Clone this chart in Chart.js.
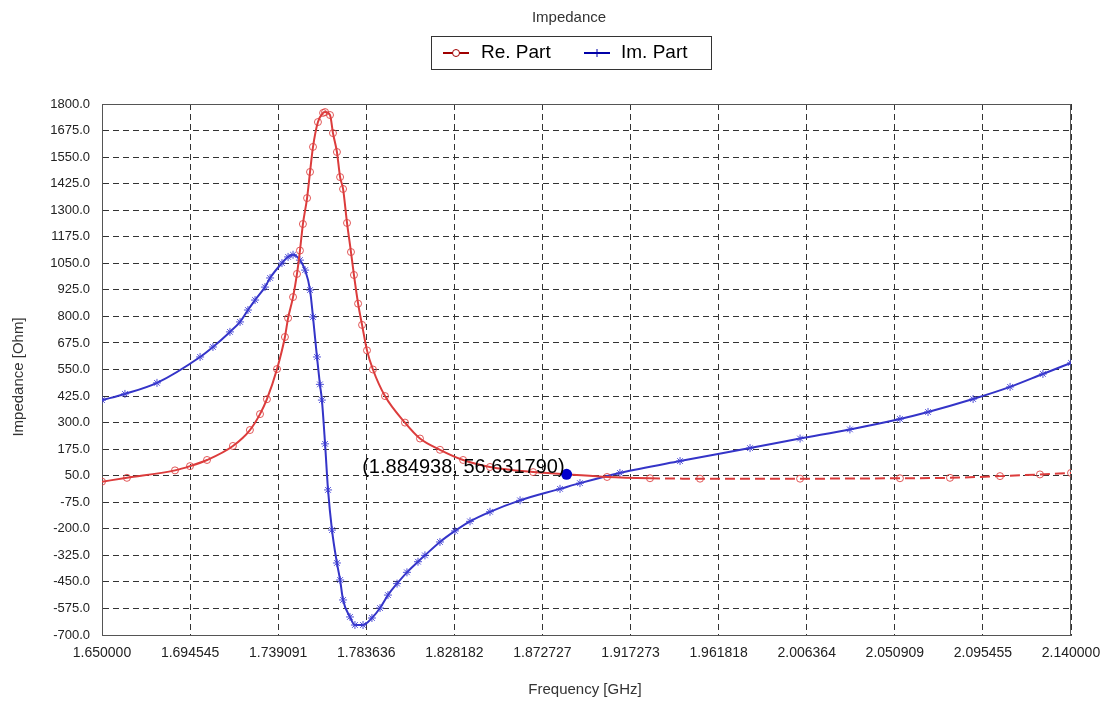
<!DOCTYPE html>
<html>
<head>
<meta charset="utf-8">
<script src="https://cdn.jsdelivr.net/npm/chart.js@4.4.1/dist/chart.umd.min.js"></script>
<style>
html,body{margin:0;padding:0;background:#fff;}
canvas{display:block;}
</style>
</head>
<body>
<canvas id="c" width="1113" height="702"></canvas>
<script>
// ---- data ----
const chartTitle = "Impedance";
const seriesNames = ["Re. Part", "Im. Part"];
const xAxisTitle = "Frequency [GHz]";
const yAxisTitle = "Impedance [Ohm]";

const freqRe = [1.6500,1.6626,1.6869,1.6945,1.7031,1.7162,1.7248,1.7299,1.7334,1.7385,1.7425,1.7441,1.7466,1.7486,1.7501,1.7516,1.7537,1.7552,1.7567,1.7592,1.7618,1.7628,1.7653,1.7668,1.7688,1.7704,1.7719,1.7739,1.7759,1.7774,1.7795,1.7815,1.7840,1.7870,1.7931,1.8032,1.8108,1.8209,1.8326,1.8462,1.8680,1.8849,1.9054,1.9271,1.9524,2.0030,2.0535,2.0788,2.1041,2.1243,2.1400];
const reVals = [22,40,75,95,124,190,265,340,410,552,703,792,891,1000,1110,1235,1357,1480,1598,1715,1758,1762,1748,1663,1574,1456,1400,1240,1103,995,860,760,640,550,425,300,225,172,124,91,67,57,44,38,36,36,38,40,48,56,63];

const freqIm = [1.6500,1.6616,1.6778,1.6996,1.7061,1.7147,1.7198,1.7238,1.7274,1.7324,1.7350,1.7410,1.7441,1.7466,1.7501,1.7527,1.7552,1.7567,1.7587,1.7602,1.7612,1.7628,1.7643,1.7663,1.7688,1.7704,1.7719,1.7754,1.7779,1.7820,1.7865,1.7906,1.7946,1.7992,1.8042,1.8098,1.8133,1.8209,1.8285,1.8361,1.8462,1.8614,1.8816,1.8917,1.9119,1.9423,1.9777,2.0030,2.0282,2.0535,2.0677,2.0905,2.1092,2.1258,2.1400];
const imVals = [406,435,487,609,656,727,774,830,877,938,981,1051,1080,1090,1065,1018,924,797,609,480,406,200,-17,-206,-361,-441,-535,-615,-653,-653,-620,-573,-512,-458,-405,-355,-325,-262,-210,-165,-120,-66,-12,15,63,119,180,225,268,317,350,411,468,529,581];

const xTickValues = [1.650000,1.694545,1.739091,1.783636,1.828182,1.872727,1.917273,1.961818,2.006364,2.050909,2.095455,2.140000];
const yMin = -700, yMax = 1800, yStep = 125;

const markerX = 1.884938, markerY = 56.631790;
const markerLabel = "(1.884938, 56.631790)";
const dashFrom = 1.91;

const RED = "#dc3c3c", BLUE = "#3434c8";

// ---- plugin for title, legend, axis titles, frame and marker ----
const deco = {
  id: "deco",
  beforeDatasetsDraw(chart) {
    const {ctx, chartArea: a} = chart;
    ctx.save();
    ctx.strokeStyle = "#555";
    ctx.lineWidth = 1;
    ctx.strokeRect(a.left + 0.5, a.top + 0.5, a.right - a.left - 1, a.bottom - a.top);
    ctx.restore();
  },
  afterDraw(chart) {
    const {ctx, scales} = chart;
    ctx.save();
    // title
    ctx.fillStyle = "#333";
    ctx.font = "15px 'Liberation Sans', Arial, sans-serif";
    ctx.textAlign = "center";
    ctx.textBaseline = "middle";
    ctx.fillText(chartTitle, 569, 18);
    // legend box
    ctx.strokeStyle = "#333";
    ctx.lineWidth = 1;
    ctx.strokeRect(431.5, 36.5, 280, 33);
    // item 1
    ctx.strokeStyle = "#a00000";
    ctx.lineWidth = 2;
    ctx.beginPath(); ctx.moveTo(443, 53); ctx.lineTo(469, 53); ctx.stroke();
    ctx.fillStyle = "#fff";
    ctx.lineWidth = 1;
    ctx.beginPath(); ctx.arc(456, 53, 3.5, 0, Math.PI * 2); ctx.fill(); ctx.stroke();
    // item 2
    ctx.strokeStyle = "#0000a8";
    ctx.lineWidth = 2;
    ctx.beginPath(); ctx.moveTo(584, 53); ctx.lineTo(610, 53); ctx.stroke();
    ctx.lineWidth = 1;
    ctx.beginPath(); ctx.moveTo(597, 49); ctx.lineTo(597, 57); ctx.stroke();
    ctx.fillStyle = "#000";
    ctx.font = "19px 'Liberation Sans', Arial, sans-serif";
    ctx.textAlign = "left";
    ctx.fillText(seriesNames[0], 481, 53);
    ctx.fillText(seriesNames[1], 621, 53);
    // axis titles
    ctx.fillStyle = "#333";
    ctx.font = "15px 'Liberation Sans', Arial, sans-serif";
    ctx.textAlign = "center";
    ctx.fillText(xAxisTitle, 585, 690);
    ctx.translate(19, 377);
    ctx.rotate(-Math.PI / 2);
    ctx.fillText(yAxisTitle, 0, 0);
    ctx.restore();
    // marker
    const mx = scales.x.getPixelForValue(markerX);
    const my = scales.y.getPixelForValue(markerY);
    ctx.save();
    ctx.fillStyle = "#0000cc";
    ctx.beginPath(); ctx.arc(mx, my, 5.5, 0, Math.PI * 2); ctx.fill();
    ctx.fillStyle = "#000";
    ctx.font = "20px 'Liberation Sans', Arial, sans-serif";
    ctx.textAlign = "right";
    ctx.textBaseline = "middle";
    ctx.fillText(markerLabel, mx - 2, my - 7);
    ctx.restore();
  }
};

const toXY = (xs, ys) => xs.map((x, i) => ({x: x, y: ys[i]}));

new Chart(document.getElementById("c"), {
  type: "line",
  data: {
    datasets: [
      {
        label: seriesNames[0],
        data: toXY(freqRe, reVals),
        borderColor: RED,
        borderWidth: 2,
        pointStyle: "circle",
        pointRadius: 3.5,
        pointBorderWidth: 1,
        pointBorderColor: "rgba(220,60,60,0.85)",
        pointBackgroundColor: "rgba(255,255,255,0)",
        cubicInterpolationMode: "monotone",
        segment: {
          borderDash: ctx => (ctx.p0.parsed.x >= dashFrom ? [10, 5] : undefined)
        }
      },
      {
        label: seriesNames[1],
        data: toXY(freqIm, imVals),
        borderColor: BLUE,
        borderWidth: 2,
        pointStyle: "star",
        pointRadius: 4,
        pointBorderWidth: 1,
        pointBorderColor: "rgba(60,60,210,0.9)",
        pointBackgroundColor: "rgba(60,60,210,0.9)",
        cubicInterpolationMode: "monotone"
      }
    ]
  },
  options: {
    responsive: false,
    animation: false,
    devicePixelRatio: 1,
    layout: {padding: {left: 0, right: 42, top: 104, bottom: 0}},
    plugins: {
      legend: {display: false},
      title: {display: false},
      tooltip: {enabled: false}
    },
    scales: {
      x: {
        type: "linear",
        min: xTickValues[0],
        max: xTickValues[xTickValues.length - 1],
        afterBuildTicks: s => { s.ticks = xTickValues.map(v => ({value: v})); },
        afterFit: s => { s.height = 67; },
        ticks: {
          autoSkip: false,
          maxRotation: 0,
          padding: 10,
          color: "#222",
          font: {family: "'Liberation Sans', Arial, sans-serif", size: 14},
          callback: v => Number(v).toFixed(6)
        },
        grid: {color: "#333", lineWidth: 1, drawTicks: false},
        border: {display: true, color: "#555", width: 1, dash: [6, 4]}
      },
      y: {
        type: "linear",
        min: yMin,
        max: yMax,
        afterFit: s => { s.width = 102; },
        ticks: {
          stepSize: yStep,
          padding: 12,
          color: "#222",
          font: {family: "'Liberation Sans', Arial, sans-serif", size: 13},
          callback: v => Number(v).toFixed(1)
        },
        grid: {color: "#333", lineWidth: 1, drawTicks: false},
        border: {display: true, color: "#555", width: 1, dash: [6, 4]}
      }
    }
  },
  plugins: [deco]
});
</script>
</body>
</html>
